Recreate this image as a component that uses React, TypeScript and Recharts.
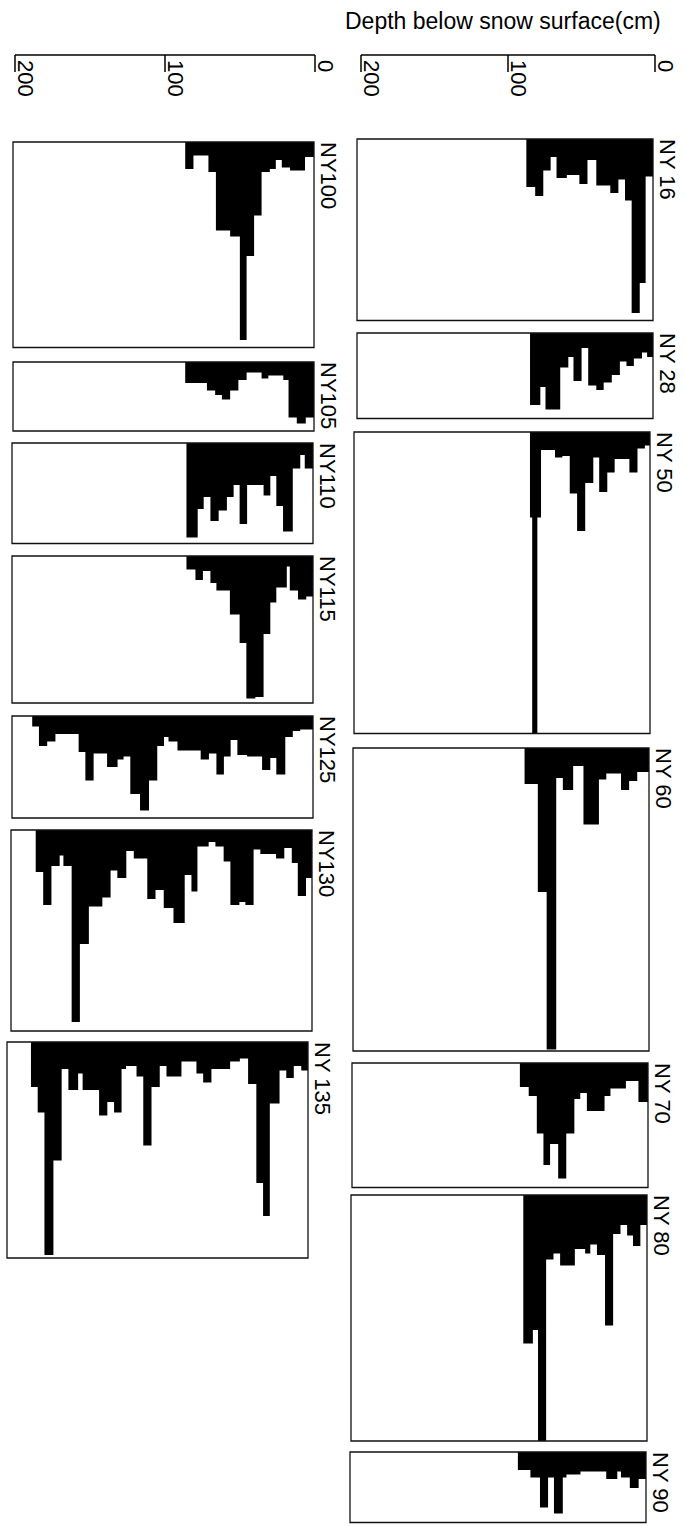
import React from 'react';
import { AreaChart, Area, XAxis, YAxis, ReferenceArea } from 'recharts';

// [depth below snow surface (cm) where the layer starts, bar length]
type Step = [number, number];

const ny16: Step[] = [[0, 25], [5, 96], [9, 116], [14.5, 41], [19, 27], [23.5, 36], [29, 31], [38.5, 14], [44.5, 30], [50, 24], [58.5, 26], [65.5, 12], [69.5, 21], [74.5, 38], [80, 32], [86, 0]];
const ny28: Step[] = [[0, 16], [4, 13], [7.5, 17], [13, 22], [18, 19], [22.5, 28], [28, 33], [33.5, 38], [38.5, 35], [44, 10], [48.5, 32], [54, 16], [57.5, 23], [63, 51], [73, 36], [76.5, 48], [83.5, 0]];
const ny50: Step[] = [[0, 9], [3.5, 11], [8.5, 27], [14, 18], [24, 27], [29, 40], [34.5, 17], [38.5, 34], [44, 66], [49.5, 41], [54.5, 16], [59.5, 17], [64.5, 12], [74, 57], [76.5, 201], [80, 57], [81.5, 0]];
const ny60: Step[] = [[0, 16], [8, 22], [13.5, 28], [19, 17], [29, 21], [34, 51], [44.5, 12], [51.5, 28], [58.5, 20], [63, 201], [69.5, 96], [75.5, 24], [84.5, 0]];
const ny70: Step[] = [[0, 26], [6.5, 12], [15, 17], [25.5, 22], [29.5, 32], [41.5, 20], [46, 24], [50, 47], [55.5, 77], [61, 54], [66.5, 68], [71, 47], [75.5, 22], [81, 16], [87, 0]];
const ny80: Step[] = [[0, 20], [4.5, 34], [9.5, 27], [13.5, 20], [18, 26], [23, 87], [28.5, 40], [34, 33], [38.5, 39], [42, 36], [49, 47], [59, 39], [63.5, 43], [68.5, 164], [74, 90], [77.5, 99], [84, 0]];
const ny90: Step[] = [[0, 18], [5, 24], [11, 17], [17, 13], [19.5, 18], [27, 13], [44.5, 15], [54, 17], [56.5, 41], [62.5, 17], [66.5, 37], [72, 17], [78.5, 12], [87, 0]];

const ny100: Step[] = [[0, 10], [6, 19], [16, 17], [21.5, 12], [25.5, 18], [29.5, 20], [35, 49], [40, 76], [45, 132], [49.5, 63], [56, 59], [65.5, 20], [70.5, 9], [80.5, 18], [86, 0]];
const ny105: Step[] = [[0, 37], [5.5, 41], [11.5, 37], [17, 12], [20.5, 9], [30.5, 11], [35, 7], [45, 12], [50.5, 19], [56, 25], [61.5, 22], [66, 19], [71.5, 14], [86, 0]];
const ny110: Step[] = [[0, 17], [5.5, 8], [8.5, 17], [13.5, 59], [20, 42], [24.5, 22], [28.5, 35], [33, 28], [44, 54], [49, 28], [53, 36], [57.5, 45], [63, 52], [68.5, 36], [73, 44], [77, 63], [84.5, 0]];
const ny115: Step[] = [[0, 27], [4.5, 29], [10, 23], [15.5, 7], [17.5, 21], [24.5, 31], [28.5, 52], [33, 94], [38.5, 95], [44.5, 58], [49, 39], [55.5, 23], [64.5, 18], [68.5, 10], [73.5, 16], [78.5, 9], [84.5, 0]];
const ny125: Step[] = [[0, 9], [8.5, 10], [13.5, 14], [18.5, 39], [24.5, 28], [28.5, 36], [34, 27], [44, 26], [50.5, 16], [55, 27], [59.5, 39], [64.5, 25], [69.5, 29], [75, 23], [90.5, 17], [96.5, 14], [99.5, 20], [104, 43], [109.5, 63], [115.5, 52], [122, 27], [126.5, 29], [130.5, 34], [137.5, 25], [146.5, 43], [152, 24], [156.5, 12], [172, 17], [177.5, 20], [183, 7], [187.5, 0]];
const ny130: Step[] = [[0, 32], [4, 44], [9.5, 22], [13.5, 12], [18.5, 19], [24, 16], [34.5, 13], [39, 50], [44.5, 48], [48.5, 50], [54.5, 21], [59, 11], [64.5, 8], [69, 11], [76.5, 41], [80.5, 30], [85, 62], [92.5, 52], [99, 40], [104.5, 46], [110, 19], [119, 14], [124, 32], [130, 27], [134.5, 45], [140, 51], [149, 76], [155, 128], [160.5, 24], [166, 17], [168.5, 24], [174, 50], [179.5, 28], [184.5, 0]];
const ny135: Step[] = [[0, 19], [4.5, 16], [9.5, 24], [14.5, 19], [19, 41], [25.5, 116], [30, 94], [34.5, 28], [40, 11], [45.5, 13], [52, 18], [64.5, 27], [70, 21], [74.5, 13], [84.5, 23], [94.5, 16], [99, 30], [104.5, 69], [110, 23], [114.5, 16], [121.5, 18], [124.5, 47], [129.5, 40], [134, 49], [139.5, 32], [150.5, 21], [153.5, 32], [160, 18], [164.5, 79], [170, 142], [176, 47], [180.5, 30], [185, 0]];

const rightNames = ['NY 16', 'NY 28', 'NY 50', 'NY 60', 'NY 70', 'NY 80', 'NY 90'];
const rightSteps = [ny16, ny28, ny50, ny60, ny70, ny80, ny90];
const rightMax = [121, 57, 201, 202, 83, 164, 47];

const leftNames = ['NY100', 'NY105', 'NY110', 'NY115', 'NY125', 'NY130', 'NY 135'];
const leftSteps = [ny100, ny105, ny110, ny115, ny125, ny130, ny135];
const leftMax = [137, 46, 67, 98, 68, 134, 144];

const depthTicks = [0, 100, 200];
const DEPTH_MAX = 201;

// layout (page px)
const FONT = '"Liberation Sans", Arial, Helvetica, sans-serif';
const VALUE_PX = 1.5;
const RIGHT_W = 296;
const LEFT_W = 301;
const rightPos = [[357, 139], [357, 333], [354, 432], [353, 748], [352, 1063], [351, 1195], [350, 1452]];
const leftPos = [[13, 142], [13, 362], [12, 443], [12, 556], [12, 716], [11, 830], [7, 1042]];

function Panel({ name, steps, max, x, y, w }: { name: string; steps: Step[]; max: number; x: number; y: number; w: number }) {
  const h = max * VALUE_PX;
  const data = steps.map(([d, v]) => ({ d, v }));
  return (
    <div style={{ position: 'absolute', left: x - 2, top: y - 2 }}>
      <AreaChart width={w + 4} height={h + 4} data={data} margin={{ top: 2, right: 2, bottom: 2, left: 2 }}>
        <XAxis type="number" dataKey="d" domain={[0, DEPTH_MAX]} reversed hide />
        <YAxis type="number" domain={[0, max]} reversed hide />
        <Area type="stepAfter" dataKey="v" stroke="none" fill="#000" fillOpacity={1} isAnimationActive={false} />
        <ReferenceArea x1={0} x2={DEPTH_MAX} y1={0} y2={max} fill="none" stroke="#111" strokeWidth={1.3} />
      </AreaChart>
      <div
        style={{
          position: 'absolute',
          left: w + 2 + 3,
          top: 2,
          writingMode: 'vertical-rl',
          fontFamily: FONT,
          fontSize: 22,
          lineHeight: '22px',
          whiteSpace: 'nowrap',
          color: '#000',
        }}
      >
        {name}
      </div>
    </div>
  );
}

const DepthTick = (props: any) => {
  const { x, y, payload } = props;
  return (
    <g>
      <line x1={x} y1={y} x2={x} y2={y + 17} stroke="#000" strokeWidth={1.5} />
      <text transform={`translate(${x + 3},${y + 5}) rotate(90)`} fontSize={22} fontFamily={FONT} fill="#000">
        {payload.value}
      </text>
    </g>
  );
};

function DepthAxis({ x, w }: { x: number; w: number }) {
  return (
    <div style={{ position: 'absolute', left: x - 4, top: 51 }}>
      <AreaChart width={w + 34} height={52} data={[{ d: 0 }, { d: 200 }]} margin={{ top: 2, right: 30, bottom: 0, left: 4 }}>
        <XAxis
          type="number"
          dataKey="d"
          domain={[0, 200]}
          reversed
          ticks={depthTicks}
          interval={0}
          tick={<DepthTick />}
          tickLine={false}
          tickSize={0}
          tickMargin={0}
          height={48}
          axisLine={{ stroke: '#000', strokeWidth: 1.5 }}
        />
        <YAxis type="number" domain={[0, 1]} hide />
      </AreaChart>
    </div>
  );
}

export default function App() {
  return (
    <div style={{ position: 'absolute', left: 0, top: 0, width: 685, height: 1526, background: '#fff', overflow: 'hidden' }}>
      <div
        style={{
          position: 'absolute',
          left: 345,
          top: 10,
          fontFamily: FONT,
          fontSize: 23,
          lineHeight: '23px',
          whiteSpace: 'nowrap',
          color: '#000',
        }}
      >
        Depth below snow surface(cm)
      </div>
      <DepthAxis x={361} w={294} />
      <DepthAxis x={15} w={300} />
      {rightNames.map((n, i) => (
        <Panel key={n} name={n} steps={rightSteps[i]} max={rightMax[i]} x={rightPos[i][0]} y={rightPos[i][1]} w={RIGHT_W} />
      ))}
      {leftNames.map((n, i) => (
        <Panel key={n} name={n} steps={leftSteps[i]} max={leftMax[i]} x={leftPos[i][0]} y={leftPos[i][1]} w={LEFT_W} />
      ))}
    </div>
  );
}
